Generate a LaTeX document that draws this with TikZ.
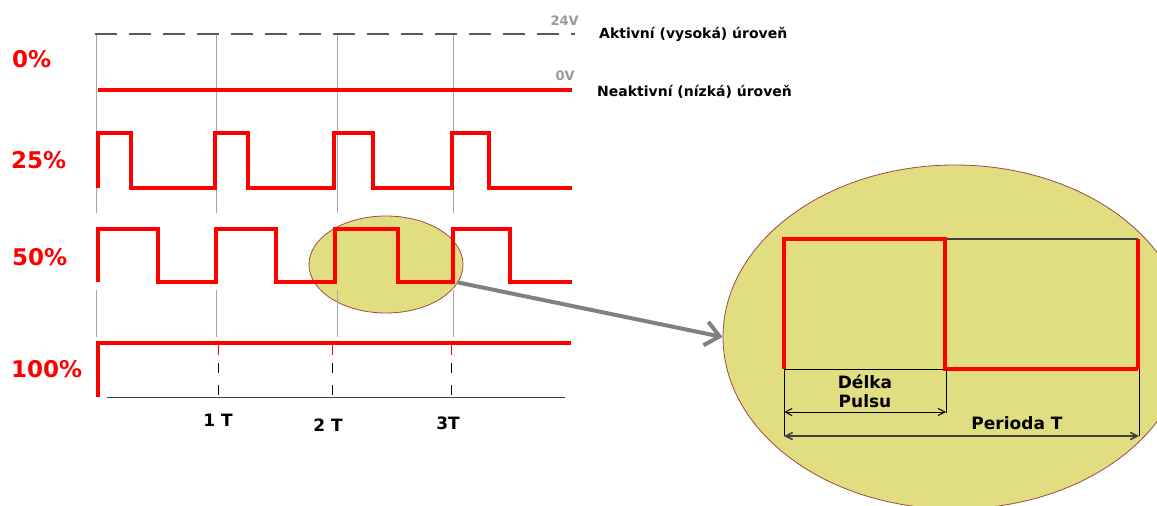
\documentclass[tikz,border=0pt]{standalone}
\usepackage{fontspec}
\setmainfont{DejaVu Sans}
\usepackage{xcolor}
\usetikzlibrary{arrows.meta,shapes.geometric,calc}

\definecolor{pwmred}{HTML}{FF0000}
\definecolor{lens}{HTML}{E0DE80}
\definecolor{lensrim}{HTML}{A04848}

\begin{document}
\begin{tikzpicture}[x=1pt,y=-1pt,
  sig/.style={pwmred,line width=3.6pt},
  gridln/.style={gray!70,line width=1pt},
  lbl/.style={text=pwmred,font=\fontsize{23}{26}\selectfont\bfseries,inner sep=0pt,anchor=west},
  lvl/.style={font=\fontsize{14}{16}\selectfont\bfseries,inner sep=0pt,anchor=west},
  volt/.style={text=gray!80,font=\fontsize{13}{15}\selectfont\bfseries,inner sep=0pt,anchor=east},
  tlbl/.style={font=\fontsize{17}{19}\selectfont\bfseries,inner sep=0pt},
  lensbox/.style={ellipse,draw=lensrim,fill=lens,line width=0.8pt,inner sep=0pt},
  dimln/.style={black,line width=1pt,{Straight Barb[length=7pt,width=7pt]}-{Straight Barb[length=7pt,width=7pt]}}]
 \useasboundingbox (0,0) rectangle (1157,506);

 % zoom lenses
 \node[lensbox,minimum width=154pt,minimum height=97pt] (zoomsmall) at (386,264.5) {};
 \node[lensbox,minimum width=464pt,minimum height=344pt] (zoombig) at (955,337) {};

 % grid and levels
 \foreach \x in {96,216,337,453} {
   \draw[gridln] (\x,34) -- (\x,213);
   \draw[gridln] (\x,290) -- (\x,337);
 }
 \draw[black!65,line width=1.2pt,dash pattern=on 22pt off 12pt] (95,34) -- (575,34);
 \node[volt] (v24) at (579,21) {24V};
 \node[volt] (v0) at (575,76) {0V};
 \node[lvl] (akt) at (599,34) {Aktivní (vysoká) úroveň};
 \node[lvl] (neakt) at (597,92) {Neaktivní (nízká) úroveň};

 % signals
 \node[lbl] (p0) at (12,59) {0\%};
 \draw[sig] (98,90) -- (572,90);
 \node[lbl] (p25) at (11,160) {25\%};
 \draw[sig] (98,188) |- (131,133) |- (215,188) |- (248,133) |- (334,188)
   |- (373,133) |- (452,188) |- (489,133) |- (572,188);
 \node[lbl] (p50) at (12,257) {50\%};
 \draw[sig] (98,282) |- (158,229) |- (216,282) |- (276,229) |- (335,282)
   |- (398,229) |- (453,282) |- (510,229) |- (572,282);
 \node[lbl] (p100) at (11,369) {100\%};
 \draw[sig] (98,397) |- (571,343);

 % time axis
 \draw[black!75,line width=1pt] (107,397) -- (565,397);
 \foreach \x in {218,332,451} {
   \draw[pwmred,line width=1pt] (\x,343) -- (\x,355);
   \draw[black,line width=1pt,dash pattern=on 10pt off 12pt] (\x,363) -- (\x,397);
 }
 \node[tlbl] (t1) at (218,420) {1 T};
 \node[tlbl] (t2) at (328,425) {2 T};
 \node[tlbl] (t3) at (448,423) {3T};

 \draw[gray,line width=4pt,-{Straight Barb[length=14pt,width=24pt]}] (zoomsmall.-14) -- (zoombig.west);

 % detail of one period
 \coordinate (ps) at (784,369);
 \coordinate (pm) at (946,369);
 \coordinate (pe) at (1139,369);
 \draw[black!75,line width=1.2pt] (945,239) -- (1138,239);
 \draw[black,line width=1pt] (ps) -- (pm);
 \draw[pwmred,line width=4.5pt] (ps) |- (945,239) |- (1138,369);
 \draw[pwmred,line width=3.5pt] (1138,369) -- (1138,239);
 \draw[black,line width=1pt] (ps) -- ++(0,67) (pm) -- ++(0,44) (pe) -- ++(0,67);
 \draw[dimln] ($(ps)+(0,43)$) -- ($(pm)+(0,43)$);
 \draw[dimln,black!75,line width=1.5pt] ($(ps)+(0,67)$) -- ($(pe)+(0,67)$);
 \node[tlbl,align=center] (delka) at (865,391) {Délka\\Pulsu};
 \node[tlbl] (perioda) at (1017,423) {Perioda T};
\end{tikzpicture}
\end{document}
